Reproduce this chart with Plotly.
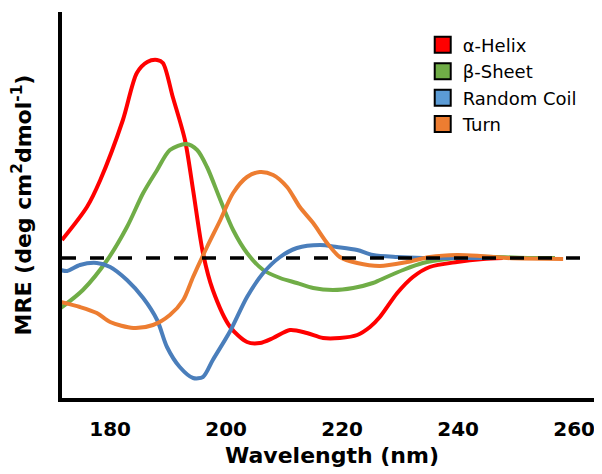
import plotly.graph_objects as go

# Wavelength (nm) and MRE (arbitrary units)
helix_x = [171.7, 176.0, 178.3, 182.2, 184.6, 186.4, 188.1, 189.1, 190.8, 192.9, 194.3, 196.0, 197.7,
           200.7, 203.6, 205.8, 208.1, 211.0, 213.9, 216.7, 219.6, 222.6, 224.8, 226.5, 229.5, 232.2,
           235.1, 239.8, 244.3, 247.7]
helix_y = [18, 51, 78, 138, 185, 196, 198, 195, 161, 118, 68, 5, -32,
           -69, -84, -85, -80, -72, -75, -80, -80, -77, -69, -59, -35, -19,
           -9, -4, -1, 0]

sheet_x = [171.5, 175.3, 179.5, 182.9, 185.7, 188.1, 190.3, 193.1, 195.0, 196.7, 199.0, 201.2, 203.6,
           206.4, 209.3, 212.2, 215.0, 218.4, 221.9, 225.3, 226.5, 230.5, 233.9, 238.1, 242.0, 246.7,
           252.4, 256.7]
sheet_y = [-50, -32, -2, 31, 65, 88, 108, 114, 108, 91, 58, 28, 5,
           -12, -20, -25, -30, -32, -30, -25, -22, -12, -5, -1, 1, 1,
           0, 0]

coil_x = [171.5, 172.6, 174.8, 177.7, 180.0, 182.9, 185.7, 188.1, 189.8, 192.0, 194.3, 196.0, 197.7,
          200.7, 203.6, 206.4, 209.3, 212.2, 216.2, 219.1, 222.6, 225.3, 229.5, 233.9, 240.3, 245.5]
coil_y = [-12, -13, -7, -5, -9, -22, -40, -62, -89, -109, -120, -119, -102,
          -73, -39, -15, 1, 10, 13, 11, 8, 3, 1, 0, 0, 0]

turn_x = [171.5, 174.8, 177.7, 180.0, 184.0, 187.4, 190.3, 192.6, 194.3, 196.7, 199.0, 201.2, 203.6,
          205.8, 208.1, 210.5, 212.7, 215.0, 217.4, 219.6, 222.6, 226.5, 231.2, 235.1, 239.8, 243.8,
          248.4, 258.1]
turn_y = [-44, -49, -55, -64, -70, -67, -57, -42, -19, 11, 38, 65, 81,
          86, 83, 71, 51, 35, 15, 1, -5, -8, -4, 1, 3, 2,
          0, -1]

names = ["α-Helix", "β-Sheet", "Random Coil", "Turn"]
line_colors = ["#FF0000", "#70AD47", "#4A7EBB", "#ED7D31"]
legend_colors = ["#FF0000", "#70AD47", "#5B9BD5", "#ED7D31"]
xs = [helix_x, sheet_x, coil_x, turn_x]
ys = [helix_y, sheet_y, coil_y, turn_y]

x_ticks = [180, 200, 220, 240, 260]
x_range = [171.7, 264.8]
y_range = [-140, 246]

fig = go.Figure()
for x, y, c in zip(xs, ys, line_colors):
    fig.add_trace(go.Scatter(x=x, y=y, mode="lines", line=dict(color=c, width=4, shape="spline", smoothing=0.8),
                             showlegend=False, hoverinfo="skip"))
for n, c in zip(names, legend_colors):
    fig.add_trace(go.Scatter(x=[None], y=[None], mode="markers", name=n,
                             marker=dict(symbol="square", size=16, color=c, line=dict(color="black", width=2))))

fig.add_shape(type="line", xref="paper", yref="y", x0=0, x1=1, y0=0, y1=0,
              line=dict(color="black", width=3.5, dash="14px,14px"), layer="above")

# page body has an 8px margin; figure is sized to fit the 602x474 window
fig.update_layout(
    width=594, height=466,
    margin=dict(l=54, r=0, t=4, b=76),
    paper_bgcolor="white", plot_bgcolor="white",
    font=dict(family="DejaVu Sans", color="black"),
    legend=dict(x=0.668, y=0.962, xanchor="left", yanchor="top", bgcolor="rgba(0,0,0,0)",
                font=dict(family="DejaVu Sans", size=18, color="black"),
                tracegroupgap=0),
    xaxis=dict(range=x_range, tickvals=x_ticks, showline=True, linewidth=4, linecolor="black",
               showgrid=False, zeroline=False, ticks="", ticklabelstandoff=10, automargin=False,
               tickfont=dict(family="DejaVu Sans", size=20, color="black", weight="bold"),
               title=dict(text="Wavelength (nm)", font=dict(family="DejaVu Sans", size=22, weight="bold"), standoff=9)),
    yaxis=dict(range=y_range, showline=True, linewidth=4, linecolor="black", showticklabels=False,
               showgrid=False, zeroline=False, ticks="", automargin=False,
               title=dict(text="MRE (deg cm<sup>2</sup>dmol<sup>-1</sup>)", font=dict(family="DejaVu Sans", size=22, weight="bold"), standoff=21)),
)

fig.write_html("out.html")
